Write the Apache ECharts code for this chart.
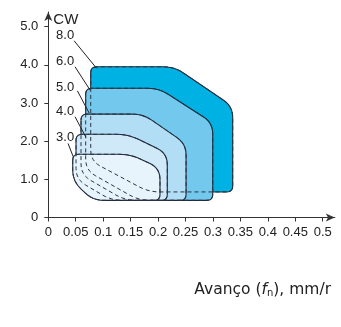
<!DOCTYPE html>
<html>
<head>
<meta charset="utf-8">
<script src="https://cdn.jsdelivr.net/npm/echarts@6/dist/echarts.min.js"></script>
<style>
html,body{margin:0;padding:0;background:#fff;}
#chart{width:341px;height:327px;}
</style>
</head>
<body>
<div id="chart"></div>
<script>
// Cutting-width zones (CW), outline vertices in data units (feed mm/r, depth)
const zoneNames = ['8.0', '6.0', '5.0', '4.0', '3.0'];
const cw80X = [0.0773, 0.2296, 0.336, 0.336, 0.183, 0.0773];
const cw80Y = [3.95, 3.95, 2.91, 0.67, 0.67, 1.48];
const cw60X = [0.0681, 0.2015, 0.2996, 0.2996, 0.165, 0.0681];
const cw60Y = [3.386, 3.386, 2.48, 0.45, 0.45, 1.24];
const cw50X = [0.0596, 0.1726, 0.251, 0.251, 0.14, 0.0596];
const cw50Y = [2.71, 2.71, 1.93, 0.45, 0.45, 1.12];
const cw40X = [0.0505, 0.1452, 0.2168, 0.2168, 0.115, 0.0505];
const cw40Y = [2.18, 2.18, 1.68, 0.45, 0.45, 1.0];
const cw30X = [0.0445, 0.1494, 0.2035, 0.2035, 0.081, 0.0445];
const cw30Y = [1.656, 1.656, 1.29, 0.45, 0.45, 0.956];

// Zone labels and leader lines
const labelX = [0.0306, 0.0306, 0.0306, 0.0306, 0.0306];
const labelY = [4.78, 4.10, 3.42, 2.79, 2.10];
const leaderX1 = [0.047, 0.0487, 0.053, 0.0487, 0.036];
const leaderY1 = [4.63, 3.95, 3.32, 2.64, 1.94];
const leaderX2 = [0.088, 0.076, 0.0747, 0.0687, 0.0455];
const leaderY2 = [3.91, 3.34, 2.73, 2.10, 1.59];

// Axis ticks
const xTicks = [0, 0.05, 0.1, 0.15, 0.2, 0.25, 0.3, 0.35, 0.4, 0.45, 0.5];
const yTicks = [0, 1, 2, 3, 4, 5];

const zoneX = [cw80X, cw60X, cw50X, cw40X, cw30X];
const zoneY = [cw80Y, cw60Y, cw50Y, cw40Y, cw30Y];
const zoneColors = ['#00b2e3', '#72c8ed', '#b1def4', '#cfe9f8', '#e8f4fc'];
const edgeColor = '#1e2838';

function roundPts(pts) {
  const out = [];
  const n = pts.length;
  for (let i = 0; i < n; i++) {
    const p0 = pts[(i - 1 + n) % n], p1 = pts[i], p2 = pts[(i + 1) % n];
    const v1 = [p0[0] - p1[0], p0[1] - p1[1]];
    const v2 = [p2[0] - p1[0], p2[1] - p1[1]];
    const l1 = Math.hypot(v1[0], v1[1]), l2 = Math.hypot(v2[0], v2[1]);
    const cosA = (v1[0] * v2[0] + v1[1] * v2[1]) / (l1 * l2);
    const R = cosA < -0.2 ? 11 : 6;
    const r = Math.min(R, l1 / 2, l2 / 2);
    const a = [p1[0] + v1[0] / l1 * r, p1[1] + v1[1] / l1 * r];
    const b = [p1[0] + v2[0] / l2 * r, p1[1] + v2[1] / l2 * r];
    for (let k = 0; k <= 6; k++) {
      const t = k / 6, u = 1 - t;
      out.push([u * u * a[0] + 2 * u * t * p1[0] + t * t * b[0],
                u * u * a[1] + 2 * u * t * p1[1] + t * t * b[1]]);
    }
  }
  return out;
}

function zonePoints(i, api) {
  return roundPts(zoneX[i].map((x, k) => api.coord([x, zoneY[i][k]])));
}

const fontMain = '"Liberation Sans", Arial, sans-serif';

const chart = echarts.init(document.getElementById('chart'), null, {renderer: 'canvas'});
chart.setOption({
  animation: false,
  backgroundColor: '#ffffff',
  title: {
    text: 'Avanço ({i|f}{s|n}), mm/r',
    right: 5,
    top: 276,
    textStyle: {
      fontFamily: '"DejaVu Sans", sans-serif',
      fontSize: 15.5,
      fontWeight: 'normal',
      color: '#222',
      rich: {
        i: {fontFamily: '"DejaVu Sans", sans-serif', fontSize: 15.5, fontStyle: 'italic', color: '#222'},
        s: {fontFamily: '"DejaVu Sans", sans-serif', fontSize: 10, color: '#222', padding: [7, 0, 0, 0]}
      }
    }
  },
  grid: {left: 48.3, right: 6.2, top: 12, bottom: 109.5, containLabel: false},
  xAxis: {
    type: 'value',
    min: 0,
    max: 0.522,
    splitLine: {show: false},
    axisLine: {show: true, onZero: false, lineStyle: {color: '#333', width: 1},
      symbol: ['none', 'arrow'], symbolSize: [6, 9], symbolOffset: [0, 0]},
    axisTick: {show: true, length: 4, lineStyle: {color: '#333'}, customValues: xTicks},
    axisLabel: {customValues: xTicks, margin: 8, fontSize: 13, fontFamily: fontMain, color: '#222',
      formatter: v => String(v)}
  },
  yAxis: {
    type: 'value',
    min: 0,
    max: 5.385,
    name: 'CW',
    nameLocation: 'end',
    nameGap: -8,
    nameTextStyle: {fontSize: 15, fontFamily: fontMain, color: '#222', align: 'left', verticalAlign: 'middle', padding: [0, 0, 0, 5]},
    splitLine: {show: false},
    axisLine: {show: true, onZero: false, lineStyle: {color: '#333', width: 1},
      symbol: ['none', 'arrow'], symbolSize: [6, 9]},
    axisTick: {show: true, length: 4, lineStyle: {color: '#333'}, customValues: yTicks},
    axisLabel: {customValues: yTicks, margin: 10, fontSize: 13, fontFamily: fontMain, color: '#222',
      formatter: v => (v === 0 ? '0' : v.toFixed(1))}
  },
  series: [
    {
      type: 'custom',
      name: 'zones',
      z: 2,
      silent: true,
      data: zoneNames.map((n, i) => ({name: n, value: [labelX[i], labelY[i]]})),
      renderItem: (params, api) => {
        const i = params.dataIndex;
        return {
          type: 'polygon',
          shape: {points: zonePoints(i, api)},
          style: {fill: zoneColors[i], stroke: edgeColor, lineWidth: 1.1}
        };
      }
    },
    {
      type: 'custom',
      name: 'hidden edges',
      z: 3,
      silent: true,
      data: zoneNames.map((n, i) => ({name: n, value: [labelX[i], labelY[i]]})),
      renderItem: (params, api) => {
        const i = params.dataIndex;
        return {
          type: 'polygon',
          shape: {points: zonePoints(i, api)},
          style: {fill: null, stroke: '#2a3444', lineWidth: 1, lineDash: [4, 3]}
        };
      }
    },
    {
      type: 'custom',
      name: 'labels',
      z: 4,
      silent: true,
      data: zoneNames.map((n, i) => ({name: n, value: [labelX[i], labelY[i]]})),
      renderItem: (params, api) => {
        const i = params.dataIndex;
        const p = api.coord([labelX[i], labelY[i]]);
        const a = api.coord([leaderX1[i], leaderY1[i]]);
        const b = api.coord([leaderX2[i], leaderY2[i]]);
        return {
          type: 'group',
          children: [
            {type: 'line', shape: {x1: a[0], y1: a[1], x2: b[0], y2: b[1]},
             style: {stroke: '#222', lineWidth: 1}},
            {type: 'text', x: p[0], y: p[1],
             style: {text: zoneNames[i], fontSize: 13, fontFamily: fontMain, fill: '#222',
               textAlign: 'center', textVerticalAlign: 'middle'}}
          ]
        };
      }
    }
  ]
});
</script>
</body>
</html>
